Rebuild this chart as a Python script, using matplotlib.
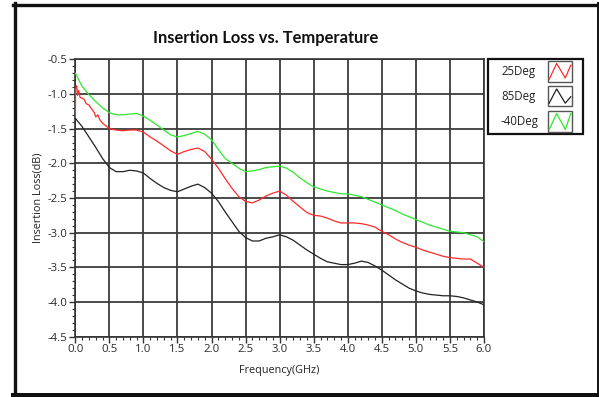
import matplotlib
matplotlib.use("Agg")
import matplotlib.pyplot as plt
from matplotlib.lines import Line2D
from matplotlib.patches import Rectangle
from matplotlib.ticker import MultipleLocator, FormatStrFormatter

# ---------------- data ----------------
title = "Insertion Loss vs. Temperature"
xlabel = "Frequency(GHz)"
ylabel = "Insertion Loss(dB)"
series_names = ["25Deg", "85Deg", "-40Deg"]
series_colors = ["#ff2a2a", "#222222", "#2ee82e"]

freq_grid = [round(0.1 * i, 1) for i in range(61)]

freq_25 = [0.0, 0.005, 0.02, 0.035, 0.05, 0.07, 0.1, 0.13, 0.16, 0.2, 0.25,
           0.28, 0.3, 0.33, 0.36, 0.4, 0.5] + freq_grid[6:]
loss_25 = [-1.35, -0.92, -0.88, -1.02, -0.95, -1.05, -1.06, -1.08, -1.14, -1.16, -1.23,
           -1.27, -1.33, -1.30, -1.37, -1.42, -1.50,
           -1.52, -1.53, -1.52, -1.52, -1.55, -1.62, -1.68, -1.75, -1.82, -1.87,
           -1.83, -1.80, -1.78, -1.83, -1.94, -2.07, -2.22, -2.36, -2.48, -2.55,
           -2.57, -2.53, -2.47, -2.43, -2.40, -2.46, -2.55, -2.63, -2.71, -2.75,
           -2.76, -2.79, -2.83, -2.86, -2.86, -2.86, -2.87, -2.89, -2.92, -2.98,
           -3.03, -3.09, -3.14, -3.18, -3.21, -3.25, -3.28, -3.31, -3.34, -3.36,
           -3.37, -3.38, -3.38, -3.44, -3.50]

freq_85 = freq_grid
loss_85 = [-1.35, -1.47, -1.62, -1.77, -1.93, -2.06, -2.12, -2.12, -2.10, -2.11,
           -2.14, -2.22, -2.29, -2.35, -2.39, -2.41, -2.37, -2.33, -2.30, -2.35,
           -2.43, -2.55, -2.70, -2.84, -2.98, -3.07, -3.12, -3.12, -3.08, -3.06,
           -3.03, -3.06, -3.11, -3.18, -3.25, -3.31, -3.37, -3.42, -3.44, -3.46,
           -3.46, -3.44, -3.41, -3.43, -3.48, -3.54, -3.61, -3.68, -3.74, -3.80,
           -3.84, -3.87, -3.89, -3.90, -3.91, -3.91, -3.92, -3.94, -3.97, -4.00,
           -4.04]

freq_m40 = freq_grid
loss_m40 = [-0.70, -0.89, -1.01, -1.11, -1.20, -1.27, -1.30, -1.30, -1.29, -1.28,
            -1.32, -1.38, -1.45, -1.52, -1.59, -1.62, -1.60, -1.57, -1.54, -1.58,
            -1.66, -1.80, -1.93, -2.00, -2.07, -2.12, -2.11, -2.09, -2.06, -2.05,
            -2.04, -2.07, -2.13, -2.21, -2.28, -2.34, -2.37, -2.40, -2.42, -2.44,
            -2.44, -2.46, -2.48, -2.52, -2.56, -2.60, -2.64, -2.68, -2.73, -2.77,
            -2.81, -2.85, -2.89, -2.92, -2.95, -2.98, -2.99, -3.00, -3.03, -3.06,
            -3.13]

x_limits = [0.0, 6.0]
y_limits = [-4.5, -0.5]

# ---------------- figure ----------------
W, H = 599, 397
fig = plt.figure(figsize=(W / 100, H / 100), dpi=100)
fig.patch.set_facecolor("white")

def fx(px):
    return px / W

def fy(py):
    return 1 - py / H

ax_left, ax_right, ax_top, ax_bottom = 75.3, 484.0, 59.3, 336.7
ax = fig.add_axes([fx(ax_left), fy(ax_bottom), (ax_right - ax_left) / W, (ax_bottom - ax_top) / H])

fam = ["Open Sans", "DejaVu Sans"]
tfam = ["Lato", "Open Sans", "DejaVu Sans"]

for f, v, c in zip([freq_25, freq_85, freq_m40], [loss_25, loss_85, loss_m40], series_colors):
    ax.plot(f, v, color=c, lw=0.9, zorder=3)

ax.set_xlim(*x_limits)
ax.set_ylim(*y_limits)
ax.xaxis.set_major_locator(MultipleLocator(0.5))
ax.xaxis.set_minor_locator(MultipleLocator(0.1))
ax.yaxis.set_major_locator(MultipleLocator(0.5))
ax.yaxis.set_minor_locator(MultipleLocator(0.1))
ax.xaxis.set_major_formatter(FormatStrFormatter("%.1f"))
ax.yaxis.set_major_formatter(FormatStrFormatter("%.1f"))
ax.grid(True, which="major", color="#3c3c3c", lw=1.3, zorder=1)
for s in ax.spines.values():
    s.set_color("#333333")
    s.set_linewidth(1.2)
ax.tick_params(which="major", direction="out", length=4.5, width=1.0, color="#333333",
               labelsize=8.2, labelcolor="#2a2a2a", pad=1.0)
ax.tick_params(which="minor", direction="out", length=2.0, width=0.8, color="#333333")
ax.tick_params(top=False, right=False, which="both")
for lab in ax.get_xticklabels() + ax.get_yticklabels():
    lab.set_family(fam)

ax.set_xlabel(xlabel, fontsize=7.8, family=fam, color="#222222", labelpad=7)
ax.set_ylabel(ylabel, fontsize=7.8, family=fam, color="#222222", labelpad=3)

fig.text(fx(265.8), fy(38.5), title, ha="center", va="center", fontsize=11.9,
         fontweight="bold", family=tfam, color="#111111")

# outer frame
fig.add_artist(Line2D([fx(14.5), fx(14.5)], [fy(3), fy(396)], color="#111111", lw=2.4))
fig.add_artist(Line2D([fx(13), fx(598)], [fy(4.5), fy(4.5)], color="#111111", lw=2.4))
fig.add_artist(Line2D([fx(597.5), fx(597.5)], [fy(3), fy(396)], color="#111111", lw=1.4))
fig.add_artist(Line2D([fx(13), fx(599)], [fy(394.5), fy(394.5)], color="#111111", lw=3.6))

# legend
fig.add_artist(Rectangle((fx(488), fy(133.5)), (582.5 - 488) / W, (133.5 - 59) / H,
                         fill=False, ec="#111111", lw=1.6, transform=fig.transFigure))
row_text_y = [71, 96.7, 121.7]
box_tops = [61, 86, 111]
box_bots = [81.7, 105.5, 132]
zig_x = [0.05, 0.36, 0.72, 0.95]
zig_y = [[0.12, 0.88, 0.18, 0.80], [0.12, 0.85, 0.12, 0.45], [0.12, 0.88, 0.12, 0.88]]
for i, name in enumerate(series_names):
    fig.text(fx(501), fy(row_text_y[i]), name, ha="left", va="center", fontsize=8.3,
             family=fam, color="#222222")
    bx0, bx1 = 548, 572
    bt, bb = box_tops[i], box_bots[i]
    fig.add_artist(Rectangle((fx(bx0), fy(bb)), (bx1 - bx0) / W, (bb - bt) / H,
                             fill=False, ec="#555555", lw=1.0, transform=fig.transFigure))
    xs = [fx(bx0 + (bx1 - bx0) * t) for t in zig_x]
    ys = [fy(bb - (bb - bt) * t) for t in zig_y[i]]
    fig.add_artist(Line2D(xs, ys, color=series_colors[i], lw=0.9))

fig.savefig("out.png", dpi=100, facecolor="white")
